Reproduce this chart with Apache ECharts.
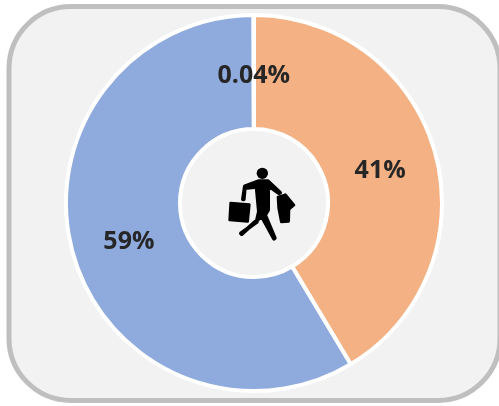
<!DOCTYPE html>
<html>
<head>
<meta charset="utf-8">
<style>
  html, body { margin: 0; padding: 0; background: #fff; }
  #chart { width: 499px; height: 406px; }
</style>
<script src="https://cdn.jsdelivr.net/npm/echarts@6/dist/echarts.min.js"></script>
</head>
<body>
<div id="chart"></div>
<script>
const categories = ['A', 'B', 'C']
const values = [41.4, 58.56, 0.04]
const colors = ['#f4b183', '#8faadc', '#a5a5a5']

const formatLabel = p => (p.value < 1 ? p.value.toFixed(2) : Math.round(p.value)) + '%'

const iconStyle = { fill: '#000', stroke: '#000', lineWidth: 8, lineJoin: 'round' }
const bodyStyle = { fill: '#000', stroke: '#000', lineWidth: 12, lineJoin: 'round' }

// nudges the pie labels to where the reference has them
const labelOffsets = [[-3, 4], [4, 3], [0, 7]]

const chart = echarts.init(document.getElementById('chart'))

chart.setOption({
  animation: false,
  graphic: [
    {
      type: 'rect',
      z: 0,
      shape: { x: 9, y: 6.5, width: 491, height: 394, r: 62 },
      style: { fill: '#f2f2f2', stroke: '#bfbfbf', lineWidth: 5 },
    },
    {
      // shopper icon
      type: 'group',
      x: 200,
      y: 150,
      scaleX: 1 / 3,
      scaleY: 1 / 3,
      z: 10,
      children: [
        { type: 'circle', z: 10, shape: { cx: 187, cy: 70, r: 17 }, style: { fill: '#000' } },
        {
          type: 'polygon',
          z: 10,
          shape: { points: [[129, 148], [135, 109], [175, 94], [204, 94], [240, 128], [237, 129], [204, 106], [204, 180], [195, 195], [224, 264], [222, 266], [185, 198], [125, 252], [123, 250], [170, 216], [177, 185], [170, 110], [134, 114], [131, 148]] },
          style: bodyStyle,
        },
        {
          type: 'polygon',
          z: 10,
          shape: { points: [[92, 159], [148, 164], [143, 214], [89, 210]] },
          style: iconStyle,
        },
        {
          type: 'polygon',
          z: 10,
          shape: { points: [[234, 141], [256, 134], [282, 165], [267, 178], [266, 214], [244, 216], [236, 175]] },
          style: iconStyle,
        },
      ],
    },
  ],
  series: [
    {
      type: 'pie',
      z: 5,
      center: [254, 203],
      radius: [74, 188],
      startAngle: 90,
      clockwise: true,
      avoidLabelOverlap: false,
      itemStyle: { borderColor: '#fff', borderWidth: 4 },
      label: {
        show: true,
        position: 'inside',
        formatter: formatLabel,
        fontFamily: '"Open Sans", sans-serif',
        fontWeight: 'bold',
        fontSize: 25,
        color: '#262626',
      },
      labelLine: { show: false },
      emphasis: { disabled: true },
      data: categories.map((name, i) => ({
        name,
        value: values[i],
        itemStyle: { color: colors[i] },
        label: { offset: labelOffsets[i] },
      })),
    },
  ],
})
</script>
</body>
</html>
